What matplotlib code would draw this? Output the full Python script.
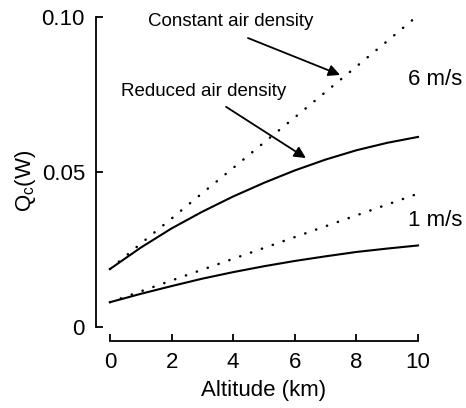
import numpy as np
import matplotlib
matplotlib.use('Agg')
import matplotlib.pyplot as plt

plt.rcParams['font.family'] = ['Liberation Sans', 'DejaVu Sans']
plt.rcParams['mathtext.fontset'] = 'custom'
plt.rcParams['mathtext.rm'] = 'Liberation Sans'
plt.rcParams['mathtext.it'] = 'Liberation Sans'

# altitude (km)
alt = [0, 1, 2, 3, 4, 5, 6, 7, 8, 9, 10]
# Q_c (W), constant vs reduced air density
q6_const = [0.0187, 0.0269, 0.0350, 0.0432, 0.0513, 0.0595, 0.0676, 0.0758, 0.0840, 0.0922, 0.1005]
q6_red = [0.0187, 0.0256, 0.0318, 0.0372, 0.0421, 0.0465, 0.0505, 0.0540, 0.0570, 0.0594, 0.0613]
q1_const = [0.0080, 0.0115, 0.0150, 0.0185, 0.0220, 0.0255, 0.0290, 0.0325, 0.0360, 0.0395, 0.0430]
q1_red = [0.0080, 0.0107, 0.0132, 0.0156, 0.0177, 0.0196, 0.0213, 0.0228, 0.0242, 0.0253, 0.0263]

xticks = [0, 2, 4, 6, 8, 10]
yticks = [0, 0.05, 0.10]
ylabels = ['0', '0.05', '0.10']

fig = plt.figure(figsize=(4.66, 4.08), dpi=100)
ax = fig.add_axes([0.236, 0.1985, 0.661, 0.760])

dots = (0, (0.1, 4.5))
ax.plot(alt, q6_const, color='black', lw=1.8, ls=dots, dash_capstyle='round', clip_on=False)
ax.plot(alt, q1_const, color='black', lw=1.8, ls=dots, dash_capstyle='round', clip_on=False)
ax.plot(alt, q6_red, color='black', lw=1.5, clip_on=False)
ax.plot(alt, q1_red, color='black', lw=1.5, clip_on=False)

ax.set_xlim(0, 10)
ax.set_ylim(0, 0.10)
ax.set_xticks(xticks)
ax.set_yticks(yticks)
ax.set_yticklabels(ylabels)

for s in ['top', 'right']:
    ax.spines[s].set_visible(False)
ax.spines['left'].set_position(('outward', 10))
ax.spines['bottom'].set_position(('outward', 10))
ax.spines['left'].set_bounds(0, 0.10)
ax.spines['bottom'].set_bounds(0, 10)
ax.spines['left'].set_linewidth(1.3)
ax.spines['bottom'].set_linewidth(1.3)
ax.tick_params(direction='in', length=5, width=1.3, labelsize=16, pad=8)

ax.set_xlabel('Altitude (km)', fontsize=16, labelpad=5)
ax.set_ylabel(r'$\mathrm{Q_c}$(W)', fontsize=16)
ax.yaxis.set_label_coords(-0.235, 0.47)

ax.text(9.68, 0.0797, '6 m/s', fontsize=16, ha='left', va='center')
ax.text(9.68, 0.0342, '1 m/s', fontsize=16, ha='left', va='center')

arrow = dict(arrowstyle='-|>', color='black', lw=1.3, mutation_scale=17,
             shrinkA=0, shrinkB=0)
ax.text(3.93, 0.0984, 'Constant air density', fontsize=13.5, ha='center', va='center')
ax.annotate('', xy=(7.47, 0.0813), xytext=(4.48, 0.0932), arrowprops=arrow)
ax.text(3.05, 0.0758, 'Reduced air density', fontsize=13.5, ha='center', va='center')
ax.annotate('', xy=(6.36, 0.0545), xytext=(3.77, 0.0710), arrowprops=arrow)

fig.savefig('out.png', dpi=100)
